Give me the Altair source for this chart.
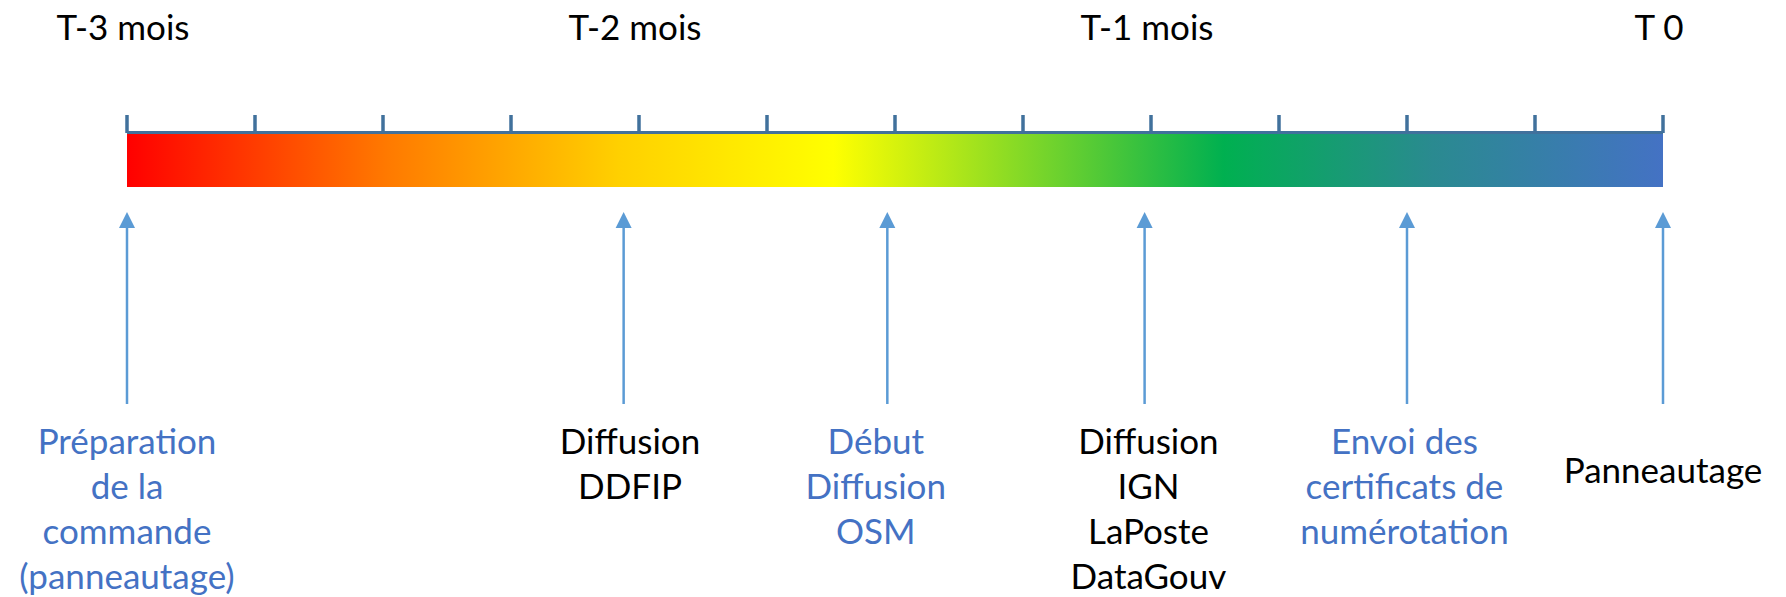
import altair as alt
import pandas as pd

# ---- data (x in weeks before T0 -> 0..12) ----
tick_weeks = list(range(13))
period_labels = ["T-3 mois", "T-2 mois", "T-1 mois", "T 0"]
period_weeks = [0, 4, 8, 12]
event_labels = [
    "Préparation\nde la\ncommande\n(panneautage)",
    "Diffusion\nDDFIP",
    "Début\nDiffusion\nOSM",
    "Diffusion\nIGN\nLaPoste\nDataGouv",
    "Envoi des\ncertificats de\nnumérotation",
    "Panneautage",
]
event_weeks = [0, 3.88, 5.94, 7.95, 10, 12]
label_weeks = [0, 3.93, 5.85, 7.98, 9.98, 12]
event_actor = ["commune", "diffuseur", "commune", "diffuseur", "commune", "diffuseur"]

ticks = pd.DataFrame({"w": tick_weeks})
periods = pd.DataFrame({"w": period_weeks, "label": period_labels})
events = pd.DataFrame({"w": event_weeks, "lw": label_weeks, "label": event_labels,
                       "actor": event_actor, "i": list(range(len(event_labels)))})
span = pd.DataFrame({"start": [tick_weeks[0]], "end": [tick_weeks[-1]]})

FONT = "Lato"
FS = 35
xs = alt.Scale(domain=[0, 12], range=[119, 1655])
X = lambda f: alt.X(f, type="quantitative", scale=xs, axis=None)
actor_color = alt.Color("actor:N", scale=alt.Scale(domain=["commune", "diffuseur"],
                                                   range=["#4472C4", "#000000"]), legend=None)

grad = alt.Gradient(
    gradient="linear",
    stops=[
        alt.GradientStop(color="#FF0000", offset=0),
        alt.GradientStop(color="#FF7A00", offset=0.17),
        alt.GradientStop(color="#FFD000", offset=0.32),
        alt.GradientStop(color="#FFFF00", offset=0.46),
        alt.GradientStop(color="#00B050", offset=0.714),
        alt.GradientStop(color="#2A8A90", offset=0.85),
        alt.GradientStop(color="#4472C4", offset=1),
    ],
    x1=0, x2=1, y1=0, y2=0,
)

bar = alt.Chart(span).mark_rect(fill=grad).encode(
    x=X("start"), x2="end", y=alt.value(126), y2=alt.value(179))

axis_line = alt.Chart(span).mark_rule(color="#41719C", strokeWidth=3).encode(
    x=X("start"), x2="end", y=alt.value(124.5))

tick_marks = alt.Chart(ticks).mark_rule(color="#41719C", strokeWidth=3.5).encode(
    x=X("w"), y=alt.value(107), y2=alt.value(125))

period_text = alt.Chart(periods).mark_text(
    font=FONT, fontSize=FS, color="#000000", align="center", baseline="alphabetic", dx=-4
).encode(x=X("w"), y=alt.value(32), text="label:N")

shaft = alt.Chart(events).mark_rule(color="#5B9BD5", strokeWidth=2.5).encode(
    x=X("w"), y=alt.value(216), y2=alt.value(396))

head = alt.Chart(events).mark_point(
    shape="M0,-1L1,1L-1,1Z", size=256, filled=True, color="#5B9BD5", opacity=1
).encode(x=X("w"), y=alt.value(212))

multi = alt.Chart(events).transform_filter("datum.i < 5").mark_text(
    font=FONT, fontSize=FS, align="center", baseline="alphabetic", lineBreak="\n", lineHeight=45
).encode(x=X("lw"), y=alt.value(446), text="label:N", color=actor_color)

single = alt.Chart(events).transform_filter("datum.i == 5").mark_text(
    font=FONT, fontSize=FS, align="center", baseline="alphabetic"
).encode(x=X("lw"), y=alt.value(475), text="label:N", color=actor_color)

chart = alt.layer(bar, axis_line, tick_marks, period_text, shaft, head, multi, single).properties(
    width=1770, height=589,
    autosize=alt.AutoSizeParams(type="none"),
    padding=0,
    background="white",
).configure_view(stroke=None)

chart.save("out.html", embed_options={"renderer": "svg", "actions": False})
